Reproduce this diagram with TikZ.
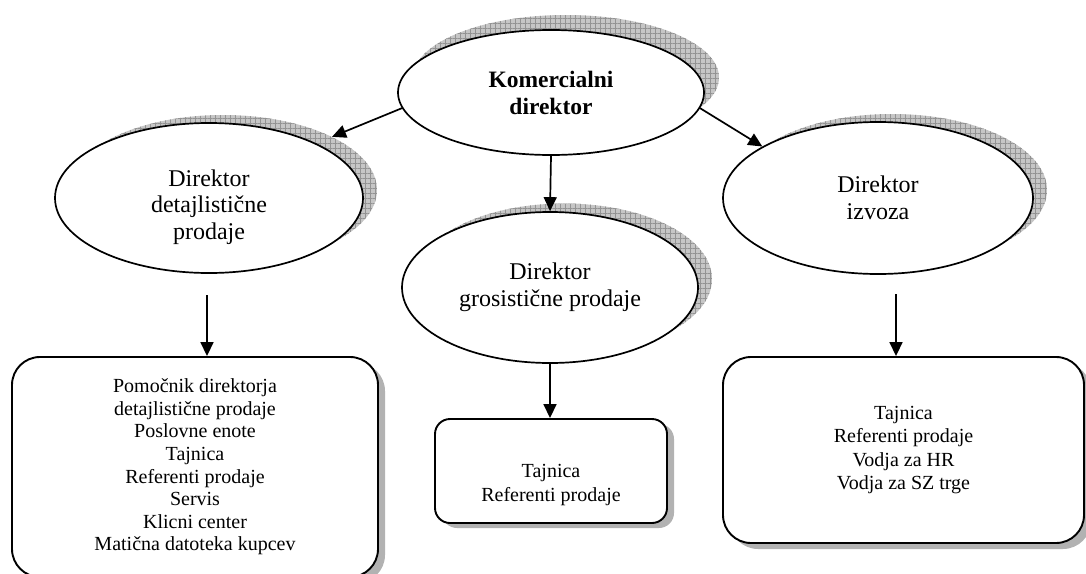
\documentclass[tikz,border=0pt]{standalone}
\usepackage{fontspec}
\setmainfont{Liberation Serif}
\usetikzlibrary{arrows.meta,patterns.meta,shapes.geometric}
\begin{document}
\begin{tikzpicture}[x=1pt,y=-1pt,
  oval/.style={ellipse,draw,line width=1.7pt,fill=white,inner sep=0pt,align=center,
    font=\fontsize{24}{27}\selectfont},
  ovalshade/.style={ellipse,inner sep=0pt,preaction={fill=gray!45},
    pattern={Hatch[distance=5pt,line width=0.5pt]},pattern color=gray!85},
  card/.style={rectangle,draw,line width=1.9pt,fill=white,rounded corners=#1,
    inner sep=0pt,align=center,font=\fontsize{20}{22.6}\selectfont},
  card/.default=15pt,
  cardshade/.style={rectangle,fill=gray!60,rounded corners=#1,inner sep=0pt},
  cardshade/.default=15pt,
  label text/.style={align=center,inner sep=0pt},
  link/.style={line width=1.7pt,-{Triangle[length=14pt,width=13pt]}}]
\useasboundingbox (0,0) rectangle (1086,573);

% hatched shadows behind the ellipses
\node[ovalshade,minimum width=306pt,minimum height=125pt] (topsh) at (566,77.5) {};
\node[ovalshade,minimum width=308pt,minimum height=150pt] (lsh) at (223,190) {};
\node[ovalshade,minimum width=296pt,minimum height=151pt] (gsh) at (564,279) {};
\node[ovalshade,minimum width=310pt,minimum height=152pt] (rsh) at (892,190) {};

% ellipses
\node[oval,minimum width=306pt,minimum height=125pt,
  font=\fontsize{23.5}{27}\selectfont\bfseries] (top) at (551,92.5) {Komercialni\\direktor};
\node[oval,minimum width=308pt,minimum height=150pt] (det) at (209,198) {};
\node[label text,font=\fontsize{24}{26.5}\selectfont] (dett) at (209,207)
  {Direktor\\detajlistične\\prodaje};
\node[oval,minimum width=296pt,minimum height=151pt] (gro) at (550,287.5)
  {Direktor\\grosistične prodaje};
\node[oval,minimum width=310pt,minimum height=152pt] (izv) at (878,198)
  {Direktor\\izvoza};

% staff boxes with their shadows
\node[cardshade=28pt,minimum width=366pt,minimum height=220pt] (lboxsh) at (202,473) {};
\node[card=28pt,minimum width=366pt,minimum height=220pt] (lbox) at (195,467)
  {Pomočnik direktorja\\detajlistične prodaje\\Poslovne enote\\Tajnica\\Referenti prodaje\\Servis\\Klicni center\\Matična datoteka kupcev};

\node[cardshade,minimum width=232pt,minimum height=104pt] (cboxsh) at (558,476) {};
\node[card,minimum width=232pt,minimum height=104pt] (cbox) at (551,471) {};
\node[label text,font=\fontsize{20}{23.5}\selectfont] (cboxt) at (551,485)
  {Tajnica\\Referenti prodaje};

\node[cardshade=28pt,minimum width=361pt,minimum height=186pt] (rboxsh) at (910.5,456) {};
\node[card=28pt,minimum width=361pt,minimum height=186pt,
  font=\fontsize{20}{23.5}\selectfont] (rbox) at (903.5,450)
  {Tajnica\\Referenti prodaje\\Vodja za HR\\Vodja za SZ trge};

% connectors
\draw[link] (top.186) -- (lsh.26);
\draw[link] (top.-6) -- (izv.156);
\draw[link] (top.south) -- (gro.north);
\coordinate (ldrop) at (207,295);
\draw[link] (ldrop) -- (ldrop |- lbox.north);
\draw[link] (gro.south) -- (gro.south |- cbox.north);
\coordinate (rdrop) at (896,294);
\draw[link] (rdrop) -- (rdrop |- rbox.north);
\end{tikzpicture}
\end{document}
